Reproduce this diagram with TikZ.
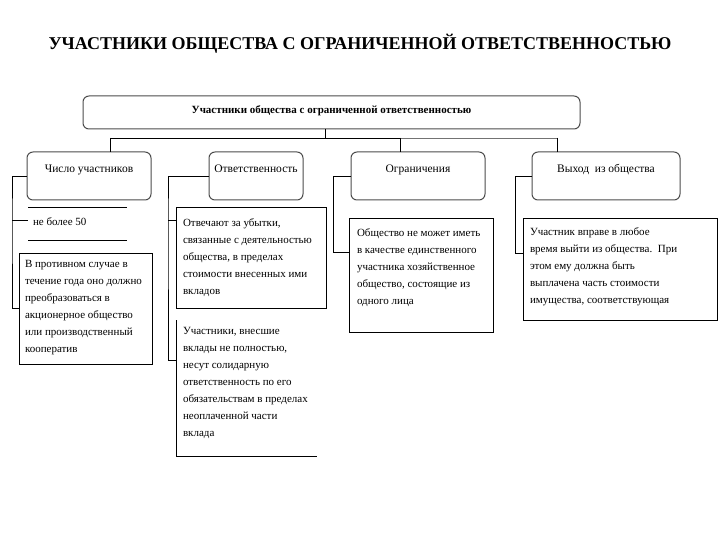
\documentclass[tikz,border=0pt]{standalone}
\usepackage{fontspec}
\setmainfont{Liberation Serif}
\begin{document}
\begin{tikzpicture}[x=1pt,y=-1pt,
  every node/.style={inner sep=0pt, outer sep=0pt},
  topbox/.style={draw=black!70, line width=1pt, rounded corners=6pt, fill=white},
  hdr/.style={draw=black!70, line width=1pt, rounded corners=6pt, fill=white},
  cbox/.style={draw=black, line width=0.8pt},
  hdrtxt/.style={anchor=base, font=\fontsize{11.5}{14}\selectfont},
  body/.style={anchor=north west, align=left, font=\fontsize{11}{17}\selectfont},
  conn/.style={draw=black, line width=0.8pt}
]
\useasboundingbox (0,0) rectangle (720,540);

% title
\node[font=\bfseries\fontsize{18}{20}\selectfont] (title) at (360,44)
  {УЧАСТНИКИ ОБЩЕСТВА С ОГРАНИЧЕННОЙ ОТВЕТСТВЕННОСТЬЮ};

% top box
\node[topbox, minimum width=497pt, minimum height=33pt] (top) at (331.5,112.5) {};
\node[font=\bfseries\fontsize{11}{12}\selectfont] (toptxt) at (331.5,111)
  {Участники общества с ограниченной ответственностью};

% header boxes
\node[hdr, minimum width=124pt, minimum height=48pt] (h1) at (89,176) {};
\node[hdr, minimum width=94pt, minimum height=48pt] (h2) at (256,176) {};
\node[hdr, minimum width=134pt, minimum height=48pt] (h3) at (418,176) {};
\node[hdr, minimum width=148pt, minimum height=48pt] (h4) at (606,176) {};
\node[hdrtxt] (h1t) at (89,172.5) {Число участников};
\node[hdrtxt] (h2t) at (256,172.5) {Ответственность};
\node[hdrtxt] (h3t) at (418,172.5) {Ограничения};
\node[hdrtxt] (h4t) at (606,172.5) {Выход\ \ из общества};

% bus
\coordinate (busL) at (110,138);
\coordinate (busM) at (400,138);
\coordinate (busR) at (557,138);
\draw[conn] (busL) -- (busM);
\draw[conn, draw=black!55] (busM) -- (busR);
\draw[conn] ([xshift=-6.5pt]top.south) -- ([xshift=-6.5pt]top.south |- busL);
\draw[conn] (busL) -- (busL |- h1.north);
\draw[conn] (busM) -- (busM |- h3.north);
\draw[conn] (busR) -- (busR |- h4.north);

% column 1
\node[minimum width=99pt, minimum height=33pt] (n50) at (77.5,223.5) {};
\draw[conn] (n50.north west) -- (n50.north east) (n50.south west) -- (n50.south east);
\node[body, anchor=west] (n50t) at (33,222) {не более 50};
\node[cbox, minimum width=133pt, minimum height=111pt] (bA) at (85.5,308.5) {};
\node[body] (tA) at (25,260.5) {В противном случае в\\течение года оно должно\\преобразоваться в\\акционерное общество\\или производственный\\кооператив};
\coordinate (r1) at (12,220);
\draw[conn] (h1.west) -| (r1) |- (bA.west);
\draw[conn] (r1) -- (n50.west |- r1);

% column 2
\node[cbox, minimum width=150pt, minimum height=101pt] (bB) at (251,257.5) {};
\node[body] (tB) at (183,218.5) {Отвечают за убытки,\\связанные с деятельностью\\общества, в пределах\\стоимости внесенных ими\\вкладов};
\node[minimum width=141pt, minimum height=136pt] (bC) at (246.5,388) {};
\draw[conn] (bC.north west) -- (bC.south west) -- (bC.south east);
\node[body] (tC) at (183,327.5) {Участники, внесшие\\вклады не полностью,\\несут солидарную\\ответственность по его\\обязательствам в пределах\\неоплаченной части\\вклада};
\coordinate (r2) at (168,220);
\coordinate (r2b) at (168,360);
\draw[conn] (h2.west) -| (r2) -- (r2b) -- (bC.west |- r2b);
\draw[conn] (r2) -- (bB.west |- r2);

% column 3
\node[cbox, minimum width=144pt, minimum height=114pt] (bD) at (421,275) {};
\node[body] (tD) at (357,228.5) {Общество не может иметь\\в качестве единственного\\участника хозяйственное\\общество, состоящие из\\одного лица};
\coordinate (r3) at (333,252);
\draw[conn] (h3.west) -| (r3) -- (bD.west |- r3);

% column 4
\node[cbox, minimum width=194pt, minimum height=102pt] (bE) at (620,269) {};
\node[body] (tE) at (530,227.5) {Участник вправе в любое\\время выйти из общества.\ \ При\\этом ему должна быть\\выплачена часть стоимости\\имущества, соответствующая};
\coordinate (r4) at (515,253);
\draw[conn] (h4.west) -| (r4) -- (bE.west |- r4);
\end{tikzpicture}
\end{document}
